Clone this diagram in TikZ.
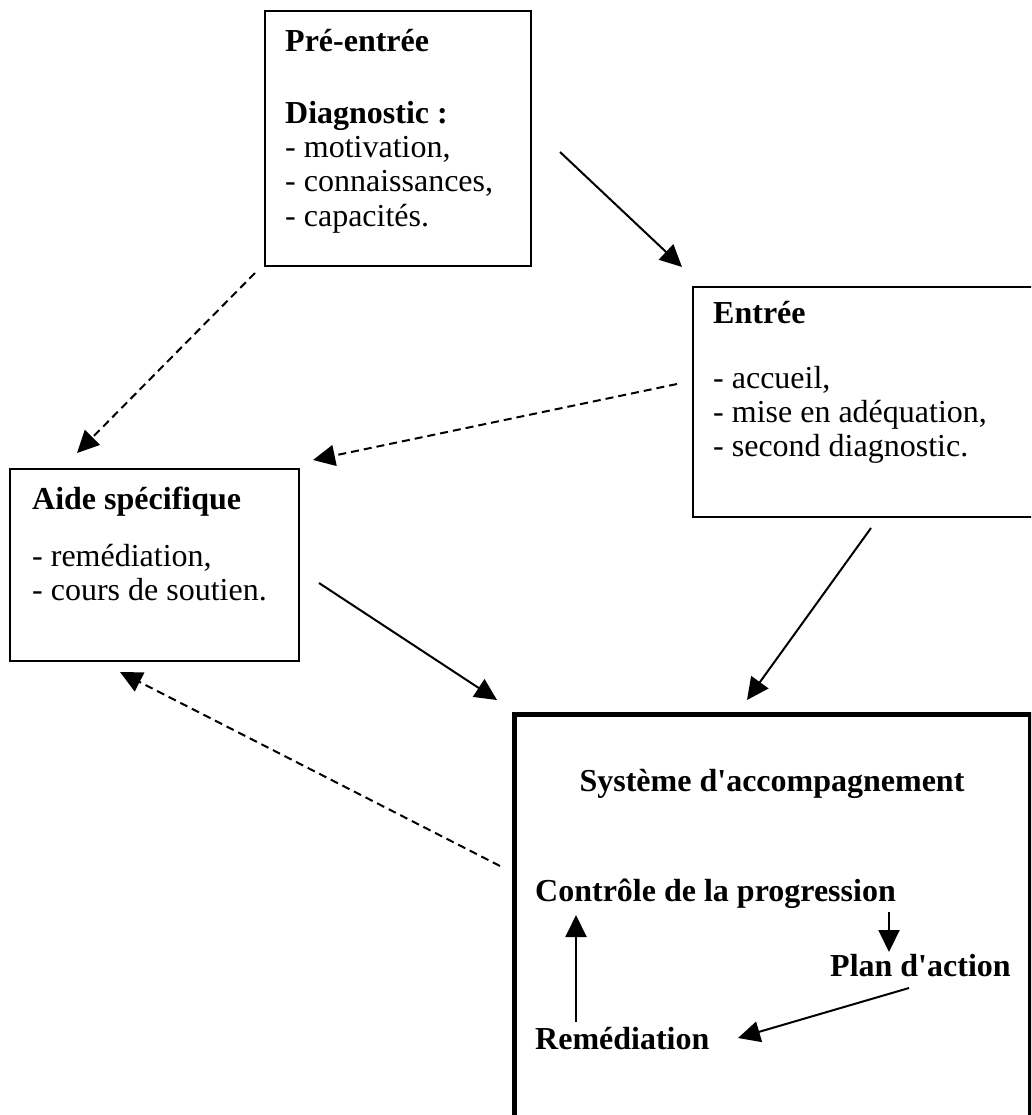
\documentclass[tikz,border=0pt]{standalone}
\usepackage{fontspec}
\setmainfont{Liberation Serif}
\usetikzlibrary{arrows.meta}
\begin{document}
\begin{tikzpicture}[x=1pt,y=-1pt,
  box/.style={draw, line width=2pt, anchor=north west, inner sep=0pt},
  bigbox/.style={draw, line width=5pt, anchor=north west, inner sep=0pt},
  txt/.style={anchor=base west, inner sep=0pt, font=\fontsize{32}{34}\selectfont},
  ttl/.style={anchor=base west, inner sep=0pt, font=\fontsize{32}{34}\selectfont\bfseries},
  arr/.style={line width=2pt, -{Triangle[length=22pt,width=21pt]}},
  darr/.style={arr, dash pattern=on 8pt off 5pt}]
\useasboundingbox (0,0) rectangle (1031,1115);
\fill[white] (0,0) rectangle (1031,1115);
\clip (0,0) rectangle (1031,1115);

% boxes
\node[box, minimum width=266pt, minimum height=255pt] (pre) at (264,10) {};
\node[box, minimum width=360pt, minimum height=230pt] (entree) at (692,286) {};
\node[box, minimum width=289pt, minimum height=192pt] (aide) at (9,468) {};
\node[bigbox, minimum width=516.5pt, minimum height=450pt] (sys) at (511.5,712) {};

% Pré-entrée text
\node[ttl] (p1) at (285,52) {Pré-entrée};
\node[ttl] (p2) at (285,124) {Diagnostic :};
\node[txt] (p3) at (285,158) {- motivation,};
\node[txt] (p4) at (285,192) {- connaissances,};
\node[txt] (p5) at (285,226) {- capacités.};

% Entrée text
\node[ttl] (e1) at (713,323) {Entrée};
\node[txt] (e2) at (713,388) {- accueil,};
\node[txt] (e3) at (713,422) {- mise en adéquation,};
\node[txt] (e4) at (713,456) {- second diagnostic.};

% Aide text
\node[ttl] (a1) at (32,509) {Aide spécifique};
\node[txt] (a2) at (32,566) {- remédiation,};
\node[txt] (a3) at (32,600) {- cours de soutien.};

% Système text
\node[ttl, anchor=base] (s1) at (772,791) {Système d\textquotesingle accompagnement};
\node[ttl] (ctrl) at (535,901) {Contrôle de la progression};
\node[ttl] (plan) at (830,976) {Plan d\textquotesingle action};
\node[ttl] (rem) at (535,1049) {Remédiation};

% connector end points
\coordinate (preA) at (560,152);  \coordinate (entA) at (682,267);
\coordinate (preB) at (255,273);  \coordinate (aideA) at (77,453);
\coordinate (entB) at (677,384);  \coordinate (aideB) at (313,460);
\coordinate (aideC) at (319,583); \coordinate (sysA) at (497,700);
\coordinate (entC) at (871,528);  \coordinate (sysB) at (747,700);
\coordinate (sysC) at (500,866);  \coordinate (aideD) at (120,672);
\coordinate (remU) at (576,1022); \coordinate (ctrlU) at (576,915);
\coordinate (ctrlD) at (889,912); \coordinate (planD) at (889,952);
\coordinate (planL) at (909,988); \coordinate (remR) at (738,1038);

\draw[arr] (preA) -- (entA);
\draw[darr] (preB) -- (aideA);
\draw[darr] (entB) -- (aideB);
\draw[arr] (aideC) -- (sysA);
\draw[arr] (entC) -- (sysB);
\draw[darr] (sysC) -- (aideD);
\draw[arr] (remU) -- (ctrlU);
\draw[arr] (ctrlD) -- (planD);
\draw[arr] (planL) -- (remR);
\end{tikzpicture}
\end{document}
